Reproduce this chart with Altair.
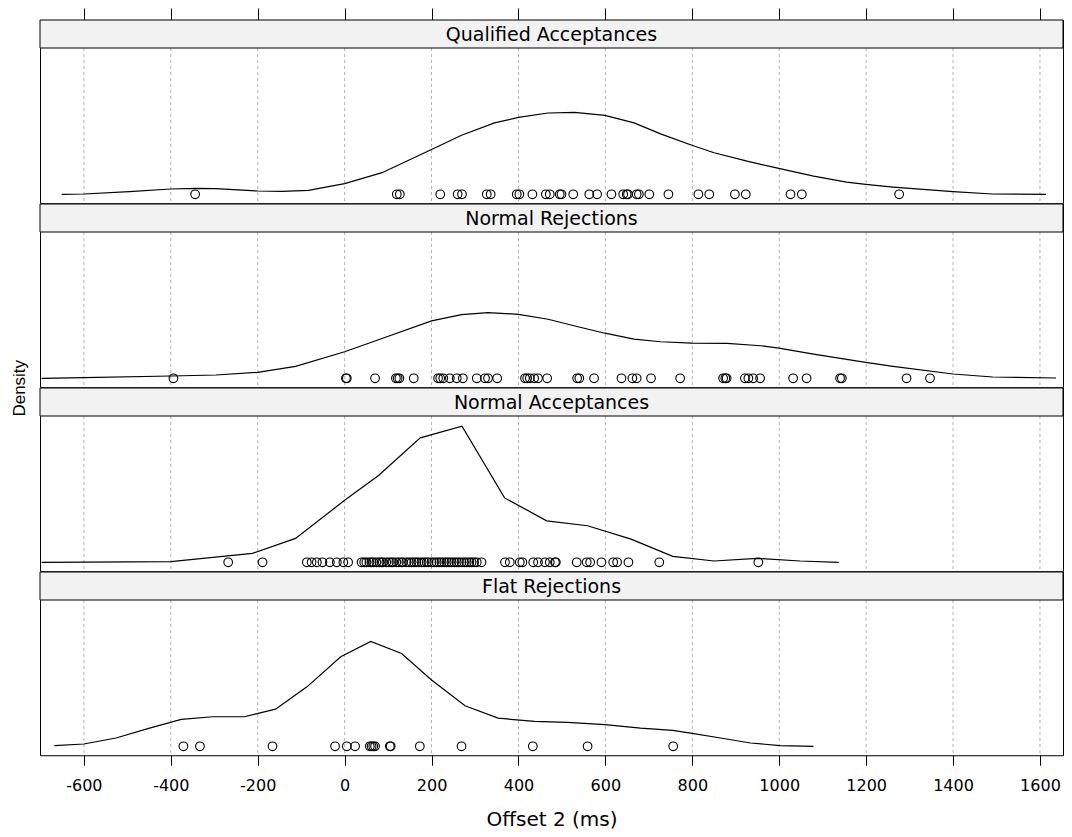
import altair as alt
import pandas as pd

# ---------------- data ----------------
panels = ["Qualified Acceptances", "Normal Rejections", "Normal Acceptances", "Flat Rejections"]

# observed offsets (ms)
qa_points = [-344, 120, 127, 220, 260, 270, 327, 336, 396, 402, 432, 463, 472, 495, 499,
             526, 563, 581, 614, 641, 649, 652, 672, 677, 701, 745, 814, 839, 898, 923,
             1026, 1052, 1276]
nr_points = [-394, 3, 5, 70, 118, 122, 126, 159, 215, 220, 227, 242, 258, 272, 304, 323,
             330, 351, 415, 420, 426, 436, 445, 466, 535, 540, 574, 637, 662, 672, 705,
             772, 871, 876, 879, 921, 929, 940, 956, 1032, 1063, 1140, 1144, 1293, 1347]
na_points = [-268, -189, -87, -76, -64, -51, -34, -18, -3, 8, 39, 45, 50, 57, 62, 66, 73,
             80, 85, 88, 96, 102, 108, 111, 119, 125, 131, 134, 142, 148, 154, 160, 165,
             170, 177, 183, 189, 193, 200, 206, 212, 218, 223, 229, 235, 240, 246, 252,
             258, 263, 269, 275, 281, 287, 292, 298, 304, 315, 369, 380, 403, 409, 434,
             445, 461, 472, 484, 486, 534, 557, 565, 591, 618, 627, 653, 724, 952]
fr_points = [-371, -333, -166, -22, 5, 24, 58, 62, 66, 70, 104, 106, 173, 269, 433, 559, 756]

# density curves: x (ms) and density (relative units)
qa_x = [-651, -600, -495, -400, -342, -297, -200, -144, -83, 0, 86, 200, 269, 345, 400, 468,
        529, 599, 666, 727, 799, 850, 926, 999, 1079, 1155, 1199, 1262, 1400, 1491, 1614]
qa_d = [0, 0.3, 2.7, 5.3, 6.0, 5.7, 3.3, 3.0, 4.0, 10.7, 21.7, 45.0, 59.3, 71.7, 77.3, 81.7,
        82.3, 79.3, 71.7, 60.7, 49.3, 41.7, 33.3, 26.0, 18.3, 12.3, 10.0, 7.3, 2.7, 0.3, 0]

nr_x = [-697, -600, -400, -296, -200, -113, 0, 86, 200, 269, 330, 400, 468, 544, 599, 666,
        727, 799, 880, 957, 999, 1079, 1199, 1262, 1400, 1491, 1637]
nr_d = [0, 0.7, 2.3, 3.3, 6.0, 12.0, 26.7, 40.0, 57.7, 64.0, 66.0, 64.3, 59.3, 51.0, 45.3,
        39.3, 36.7, 35.3, 35.0, 32.7, 30.3, 24.3, 16.0, 12.0, 4.3, 1.3, 0.3]

na_x = [-697, -400, -212, -113, 0, 78, 174, 270, 368, 465, 559, 659, 755, 850, 949, 1048, 1137]
na_d = [0, 0.7, 9.0, 24.0, 62.3, 87.3, 125.0, 136.7, 64.7, 41.7, 36.7, 23.3, 6.0, 1.3, 4.0,
        1.3, 0]

fr_x = [-668, -600, -526, -449, -376, -304, -231, -159, -86, -9, 60, 131, 200, 277, 353, 437,
        513, 599, 681, 755, 796, 865, 934, 1002, 1079]
fr_d = [0.7, 2.3, 8.3, 18.3, 27.0, 29.7, 29.7, 37.3, 60.0, 90.0, 105.3, 93.3, 66.7, 40.7,
        28.3, 25.0, 24.0, 21.7, 18.3, 16.0, 13.3, 8.3, 3.3, 0.7, 0]

tick_values = [-600, -400, -200, 0, 200, 400, 600, 800, 1000, 1200, 1400, 1600]

# ---------------- layout ----------------
W = 1023
PH = 183.25   # strip + panel height
STRIP = 28
FONT = "DejaVu Sans"

x_scale = alt.Scale(domain=[-701, 1653], nice=False, zero=False)
y_scale = alt.Scale(domain=[-9, 147], range=[PH, STRIP], nice=False, zero=False)

series = [
    (qa_points, qa_x, qa_d),
    (nr_points, nr_x, nr_d),
    (na_points, na_x, na_d),
    (fr_points, fr_x, fr_d),
]


def make_panel(i):
    name = panels[i]
    pts, cx, cd = series[i]
    curve_df = pd.DataFrame({"x": cx, "d": cd})
    pts_df = pd.DataFrame({"x": pts, "d": [0] * len(pts)})
    grid_df = pd.DataFrame({"x": tick_values})
    one = pd.DataFrame({"a": [0]})

    if i == 0:
        axis = alt.Axis(orient="top", values=tick_values, labels=False, tickSize=12,
                        tickColor="black", domain=False, grid=False, title=None)
    elif i == len(panels) - 1:
        axis = alt.Axis(orient="bottom", values=tick_values, tickSize=10, tickColor="black",
                        domain=False, grid=False, labelExpr="toString(datum.value)",
                        labelFont=FONT, labelFontSize=16, labelColor="black", labelPadding=12,
                        title="Offset 2 (ms)", titleFont=FONT, titleFontSize=20,
                        titleFontWeight="normal", titleColor="black", titlePadding=16)
    else:
        axis = None

    grid = alt.Chart(grid_df).mark_rule(color="#b3b3b3", strokeDash=[3, 3], strokeWidth=1).encode(
        x=alt.X("x:Q", scale=x_scale, axis=axis),
        y=alt.value(STRIP),
        y2=alt.value(PH),
    )
    strip = alt.Chart(one).mark_rect(fill="#f2f2f2", stroke="black", strokeWidth=1).encode(
        x=alt.value(0), x2=alt.value(W), y=alt.value(0), y2=alt.value(STRIP)
    )
    label = alt.Chart(one).mark_text(font=FONT, fontSize=19, color="black",
                                      baseline="middle", align="center").encode(
        x=alt.value(W / 2), y=alt.value(STRIP / 2 + 1), text=alt.value(name)
    )
    line = alt.Chart(curve_df).mark_line(color="black", strokeWidth=1.2).encode(
        x=alt.X("x:Q", scale=x_scale),
        y=alt.Y("d:Q", scale=y_scale, axis=None),
    )
    points = alt.Chart(pts_df).mark_point(shape="circle", size=75, filled=False,
                                          color="black", strokeWidth=1.1, opacity=1).encode(
        x=alt.X("x:Q", scale=x_scale),
        y=alt.Y("d:Q", scale=y_scale, axis=None),
    )
    layers = [grid, strip, label, line, points]
    if i == 1:
        ytitle = alt.Chart(one).mark_text(font="Liberation Sans", fontSize=17, color="black",
                                           angle=270, baseline="middle", align="center").encode(
            x=alt.value(-20), y=alt.value(PH + 1), text=alt.value("Density")
        )
        layers.append(ytitle)
    return alt.layer(*layers).properties(width=W, height=PH)


chart = alt.vconcat(*[make_panel(i) for i in range(len(panels))], spacing=0,
                    bounds="flush").properties(
    padding={"left": 2, "top": -1, "right": 0, "bottom": 0}
).configure_view(stroke="black", strokeWidth=1).configure_concat(spacing=0)

chart.save("out.html", embed_options={"renderer": "svg", "actions": False})
